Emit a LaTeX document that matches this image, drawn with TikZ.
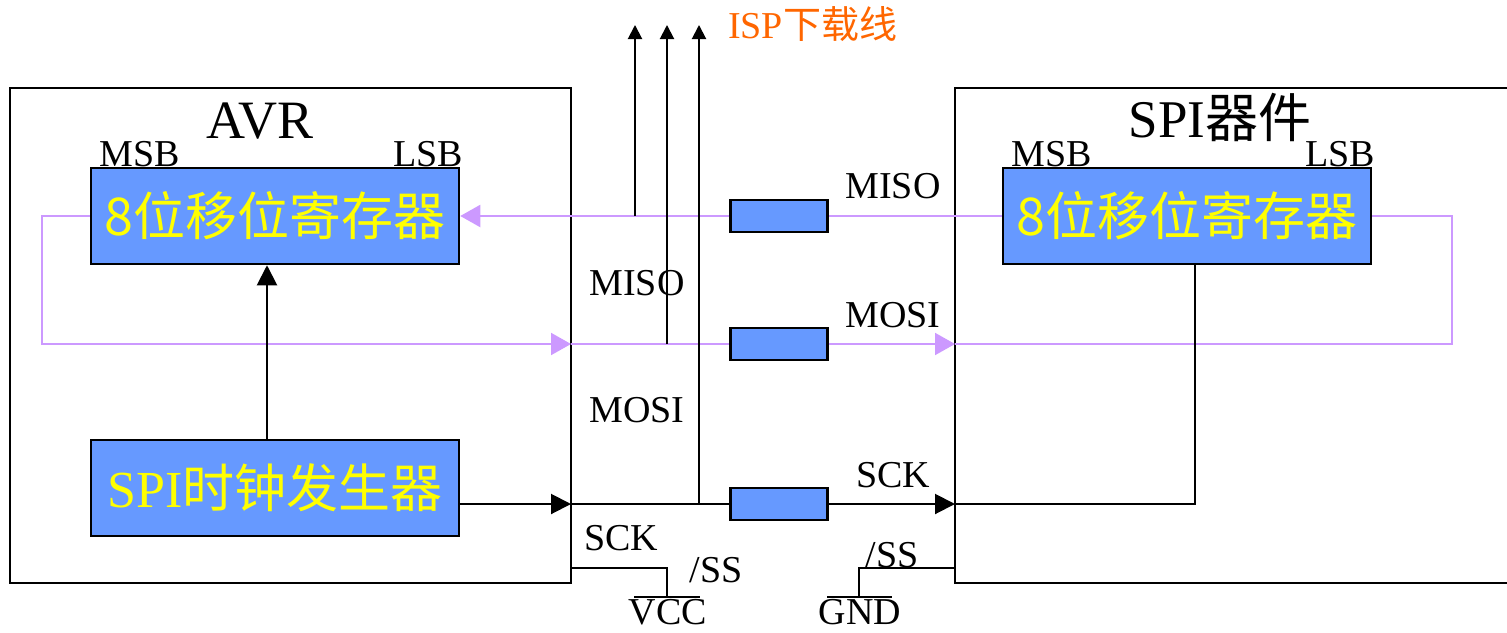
\documentclass[tikz,border=0pt]{standalone}
\usepackage{fontspec}
\setmainfont{Liberation Serif}
\newfontfamily\cjk{Noto Sans CJK SC}
\usetikzlibrary{arrows.meta}
\definecolor{boxblue}{HTML}{6699FF}
\definecolor{lilac}{HTML}{CC99FF}
\definecolor{ispor}{HTML}{FF6600}
\definecolor{regyellow}{HTML}{FFFF00}
\begin{document}
\begin{tikzpicture}[x=1pt,y=-1pt,
  wire/.style={line width=2pt, black},
  arr/.style={wire, -{Triangle[length=20pt,width=20pt]}},
  isparr/.style={wire, -{Triangle[length=14pt,width=14pt]}},
  pwire/.style={line width=2pt, lilac},
  parr/.style={pwire, -{Triangle[length=20pt,width=22pt]}},
  outer/.style={draw, line width=2pt, inner sep=0pt},
  blk/.style={draw, line width=2.5pt, fill=boxblue, inner sep=0pt},
  regtext/.style={text=regyellow, font=\fontsize{52}{52}\selectfont\cjk},
  clktext/.style={text=regyellow, font=\fontsize{52}{52}\selectfont},
  lbl/.style={font=\fontsize{38}{38}\selectfont, inner sep=0pt, anchor=base},
  ttl/.style={font=\fontsize{54}{54}\selectfont, inner sep=0pt, anchor=base},
]
\useasboundingbox (0,0) rectangle (1507,632);

% outer boxes
\node[outer, minimum width=561pt, minimum height=495pt] (avr) at (290.5,335.5) {};
\coordinate (spiTR) at (1509,88);
\coordinate (spiTL) at (955,88);
\coordinate (spiBL) at (955,583);
\coordinate (spiBR) at (1509,583);
\draw[wire] (spiTR) -- (spiTL) -- (spiBL) -- (spiBR);

% titles
\node[ttl] (avrT) at (260,138) {AVR};
\node[ttl, font=\fontsize{53}{53}\selectfont] (spiT) at (1220,137) {SPI{\cjk 器件}};
\node[lbl] (msbL) at (140,166) {MSB};
\node[lbl] (lsbL) at (428,166) {LSB};
\node[lbl] (msbR) at (1052,166) {MSB};
\node[lbl] (lsbR) at (1340,166) {LSB};

% coordinates
\coordinate (loopL1) at (42,216);
\coordinate (loopL2) at (42,344);
\coordinate (avrMosi) at (571,344);
\coordinate (spiMosi) at (955,344);
\coordinate (loopR1) at (1452,344);
\coordinate (loopR2) at (1452,216);
\coordinate (avrSck) at (571,504);
\coordinate (spiSck) at (955,504);
\coordinate (tapMiso) at (635,216);
\coordinate (tapMosi) at (667,344);
\coordinate (tapSck) at (699,504);
\coordinate (isp1) at (635,25);
\coordinate (isp2) at (667,25);
\coordinate (isp3) at (699,25);
\coordinate (ssL) at (571,568);
\coordinate (vccTop) at (667,597);
\coordinate (vccBarL) at (634,597);
\coordinate (vccBarR) at (700,597);
\coordinate (ssR) at (955,568);
\coordinate (gndTop) at (859,597);
\coordinate (gndBarL) at (827,597);
\coordinate (gndBarR) at (892,597);

% blocks
\node[blk, minimum width=368pt, minimum height=96pt, regtext] (lreg) at (275,216) {8位移位寄存器};
\node[blk, minimum width=368pt, minimum height=96pt, regtext] (rreg) at (1187,216) {8位移位寄存器};
\node[blk, minimum width=368pt, minimum height=96pt, clktext] (clk) at (275,488) {SPI{\cjk 时钟发生器}};
\node[blk, minimum width=97pt, minimum height=32pt] (bmiso) at (779,216) {};
\node[blk, minimum width=97pt, minimum height=32pt] (bmosi) at (779,344) {};
\node[blk, minimum width=97pt, minimum height=32pt] (bsck) at (779,504) {};

% purple data loop
\draw[pwire] (rreg.west) -- (bmiso.east);
\draw[parr] (bmiso.west) -- (lreg.east);
\draw[parr] (lreg.west) -- (loopL1) -- (loopL2) -- (avrMosi);
\draw[pwire] (avrMosi) -- (bmosi.west);
\draw[parr] (bmosi.east) -- (spiMosi);
\draw[pwire] (spiMosi) -- (loopR1) -- (loopR2) -- (rreg.east);

% clock
\draw[arr] ([xshift=-8pt]clk.north) -- ([xshift=-8pt]lreg.south);
\draw[arr] (clk.east |- bsck) -- (avrSck);
\draw[wire] (avrSck) -- (bsck.west);
\draw[arr] (bsck.east) -- (spiSck);
\draw[wire] (spiSck) -| ([xshift=8pt]rreg.south);

% ISP lines
\draw[isparr] (tapMiso) -- (isp1);
\draw[isparr] (tapMosi) -- (isp2);
\draw[isparr] (tapSck) -- (isp3);
\node[lbl, anchor=base west, text=ispor, font=\fontsize{38}{38}\selectfont] (isp) at (728,38) {ISP{\cjk 下载线}};

% /SS
\draw[wire] (ssL) -| (vccTop);
\draw[wire] (vccBarL) -- (vccBarR);
\draw[wire] (ssR) -| (gndTop);
\draw[wire] (gndBarL) -- (gndBarR);

% labels
\node[lbl] (misoR) at (893,198) {MISO};
\node[lbl] (mosiR) at (893,327) {MOSI};
\node[lbl] (sckR) at (893,487) {SCK};
\node[lbl] (misoL) at (637,295) {MISO};
\node[lbl] (mosiL) at (637,422) {MOSI};
\node[lbl] (sckL) at (621,550) {SCK};
\node[lbl] (ssLt) at (716,582) {/SS};
\node[lbl] (ssRt) at (892,567) {/SS};
\node[lbl] (vcc) at (668,624) {VCC};
\node[lbl] (gnd) at (860,624) {GND};
\end{tikzpicture}
\end{document}
